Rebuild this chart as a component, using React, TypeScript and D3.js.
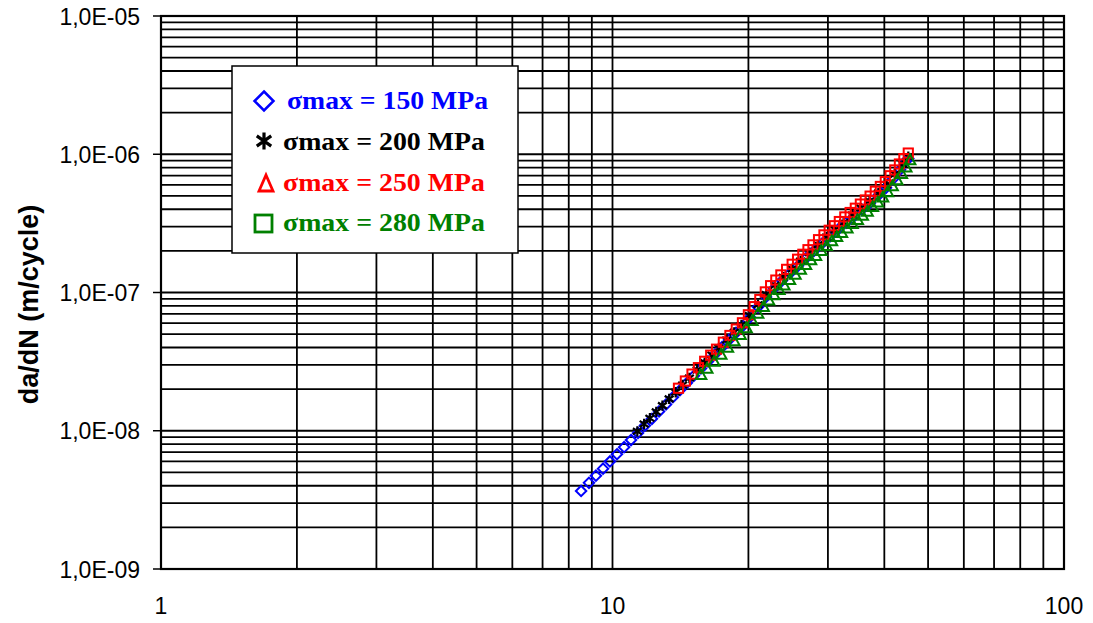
import React from "react";
import * as d3 from "d3";

// ---- Data ----
const k150 = [8.52, 8.87, 9.19, 9.53, 9.87, 10.23, 10.61, 10.99, 11.39, 11.8, 12.23, 12.68, 13.14, 13.61, 14.11, 14.62, 15.15, 15.7, 16.27, 16.87, 17.48, 18.11, 18.77, 19.45, 20.16, 21.0, 21.88, 22.79, 23.74, 24.73, 25.76, 26.83, 27.94, 29.11, 30.32, 31.58, 32.9, 34.27, 35.69, 37.18, 38.73, 40.34, 41.81, 43.34, 44.68, 45.2];
const dadn150 = [3.67e-9, 4.2e-9, 4.73e-9, 5.32e-9, 6.0e-9, 6.76e-9, 7.61e-9, 8.57e-9, 9.65e-9, 1.09e-8, 1.22e-8, 1.38e-8, 1.55e-8, 1.75e-8, 1.97e-8, 2.22e-8, 2.5e-8, 2.82e-8, 3.17e-8, 3.57e-8, 4.02e-8, 4.53e-8, 5.1e-8, 5.74e-8, 6.63e-8, 7.84e-8, 9.28e-8, 1.07e-7, 1.22e-7, 1.38e-7, 1.56e-7, 1.77e-7, 2.0e-7, 2.26e-7, 2.55e-7, 2.85e-7, 3.19e-7, 3.56e-7, 3.98e-7, 4.44e-7, 5.02e-7, 5.72e-7, 6.62e-7, 7.73e-7, 8.94e-7, 9.3e-7];

const k200 = [11.35, 11.75, 12.1, 12.5, 12.9, 13.35, 13.8, 14.3, 14.8, 15.4, 16.0, 16.6, 17.2, 17.9, 18.6, 19.3, 20.1, 21.0, 21.9, 22.9, 23.9, 25.0, 26.1, 27.3, 28.5, 29.8, 31.1, 32.5, 34.0, 35.5, 37.1, 38.8, 40.5, 42.2, 43.9, 45.2];
const dadn200 = [9.9e-9, 1.12e-8, 1.23e-8, 1.37e-8, 1.52e-8, 1.7e-8, 1.9e-8, 2.14e-8, 2.41e-8, 2.75e-8, 3.11e-8, 3.53e-8, 3.97e-8, 4.53e-8, 5.15e-8, 5.82e-8, 6.81e-8, 8.15e-8, 9.65e-8, 1.13e-7, 1.29e-7, 1.48e-7, 1.69e-7, 1.94e-7, 2.21e-7, 2.52e-7, 2.84e-7, 3.21e-7, 3.63e-7, 4.08e-7, 4.59e-7, 5.25e-7, 6.04e-7, 7.18e-7, 8.5e-7, 9.6e-7];

const k250 = [14.0, 14.5, 15.0, 15.5, 16.0, 16.5, 17.0, 17.6, 18.2, 18.8, 19.4, 20.0, 20.6, 21.2, 21.8, 22.4, 23.0, 23.6, 24.3, 25.0, 25.7, 26.4, 27.1, 27.8, 28.6, 29.4, 30.2, 31.0, 31.8, 32.7, 33.6, 34.5, 35.4, 36.3, 37.2, 38.2, 39.2, 40.2, 41.2, 42.2, 43.2, 44.2, 45.2];
const dadn250 = [2.03e-8, 2.29e-8, 2.57e-8, 2.86e-8, 3.18e-8, 3.52e-8, 3.89e-8, 4.37e-8, 4.89e-8, 5.44e-8, 6.04e-8, 6.9e-8, 7.9e-8, 8.9e-8, 1.01e-7, 1.12e-7, 1.23e-7, 1.34e-7, 1.47e-7, 1.6e-7, 1.74e-7, 1.89e-7, 2.04e-7, 2.21e-7, 2.41e-7, 2.61e-7, 2.82e-7, 3.04e-7, 3.26e-7, 3.52e-7, 3.79e-7, 4.07e-7, 4.36e-7, 4.67e-7, 4.98e-7, 5.4e-7, 5.85e-7, 6.34e-7, 6.99e-7, 7.7e-7, 8.5e-7, 9.3e-7, 1.02e-6];

const k280 = [15.7, 16.2, 16.8, 17.4, 18.0, 18.6, 19.2, 19.8, 20.4, 21.0, 21.6, 22.2, 22.8, 23.4, 24.0, 24.7, 25.4, 26.1, 26.8, 27.5, 28.2, 29.0, 29.8, 30.6, 31.4, 32.2, 33.1, 34.0, 34.9, 35.8, 36.7, 37.7, 38.7, 39.7, 40.7, 41.7, 42.7, 43.7, 44.7, 45.6];
const dadn280 = [2.54e-8, 2.82e-8, 3.17e-8, 3.56e-8, 4.0e-8, 4.46e-8, 4.95e-8, 5.55e-8, 6.26e-8, 7.06e-8, 7.9e-8, 8.8e-8, 9.6e-8, 1.05e-7, 1.13e-7, 1.24e-7, 1.35e-7, 1.47e-7, 1.59e-7, 1.72e-7, 1.85e-7, 2.01e-7, 2.18e-7, 2.36e-7, 2.53e-7, 2.71e-7, 2.92e-7, 3.14e-7, 3.36e-7, 3.61e-7, 3.86e-7, 4.17e-7, 4.51e-7, 4.9e-7, 5.35e-7, 5.9e-7, 6.53e-7, 7.25e-7, 8.06e-7, 9.1e-7];

const legendLabels = ["σmax = 150 MPa", "σmax = 200 MPa", "σmax = 250 MPa", "σmax = 280 MPa"];
const seriesColors = ["#0000FF", "#000000", "#FF0000", "#008000"];

const xTickValues = [1, 10, 100];
const xTickLabels = ["1", "10", "100"];
const yTickValues = [1e-9, 1e-8, 1e-7, 1e-6, 1e-5];
const yTickLabels = ["1,0E-09", "1,0E-08", "1,0E-07", "1,0E-06", "1,0E-05"];
const yTitle = "da/dN (m/cycle)";

// ---- Layout ----
const W = 1093;
const H = 623;
const PL = 161, PR = 1064, PT = 16, PB = 569;

const x = d3.scaleLog().domain([1, 100]).range([PL, PR]);
const y = d3.scaleLog().domain([1e-9, 1e-5]).range([PB, PT]);

function gridValues(lo: number, hi: number): number[] {
  const out: number[] = [];
  for (let e = Math.round(Math.log10(lo)); e < Math.round(Math.log10(hi)); e++) {
    for (let m = 1; m <= 9; m++) out.push(m * Math.pow(10, e));
  }
  out.push(hi);
  return out;
}

const Diamond = ({ cx, cy, r, color, sw }: any) => (
  <path d={`M${cx},${cy - r}L${cx + r},${cy}L${cx},${cy + r}L${cx - r},${cy}Z`} fill="none" stroke={color} strokeWidth={sw} />
);
const Star = ({ cx, cy, r, color, sw }: any) => (
  <path
    d={`M${cx},${cy - r}L${cx},${cy + r}M${cx - r * 0.85},${cy - r * 0.6}L${cx + r * 0.85},${cy + r * 0.6}M${cx - r * 0.85},${cy + r * 0.6}L${cx + r * 0.85},${cy - r * 0.6}`}
    fill="none" stroke={color} strokeWidth={sw} />
);
const Square = ({ cx, cy, r, color, sw }: any) => (
  <rect x={cx - r} y={cy - r} width={2 * r} height={2 * r} fill="none" stroke={color} strokeWidth={sw} />
);
const Triangle = ({ cx, cy, r, color, sw }: any) => (
  <path d={`M${cx},${cy - r}L${cx + r},${cy + r * 0.8}L${cx - r},${cy + r * 0.8}Z`} fill="none" stroke={color} strokeWidth={sw} />
);

export default function App() {
  const xg = gridValues(1, 100);
  const yg = gridValues(1e-9, 1e-5);
  const s150 = k150.map((k, i) => [k, dadn150[i]]);
  const s200 = k200.map((k, i) => [k, dadn200[i]]);
  const s250 = k250.map((k, i) => [k, dadn250[i]]);
  const s280 = k280.map((k, i) => [k, dadn280[i]]);

  const legendY = [101, 142, 183, 223];

  return (
    <svg width={W} height={H} style={{ position: "absolute", left: 0, top: 0, background: "#fff" }}>
      <rect x={0} y={0} width={W} height={H} fill="#fff" />
      {/* grid */}
      <g stroke="#000" strokeWidth={1.8}>
        {yg.map((v, i) => (
          <line key={"yg" + i} x1={PL} x2={PR} y1={y(v)} y2={y(v)} />
        ))}
        {xg.map((v, i) => (
          <line key={"xg" + i} x1={x(v)} x2={x(v)} y1={PT} y2={PB} />
        ))}
      </g>
      <rect x={PL} y={PT} width={PR - PL} height={PB - PT} fill="none" stroke="#000" strokeWidth={2.2} />
      {/* y ticks */}
      {yTickValues.map((v, i) => (
        <g key={"yt" + i}>
          <line x1={PL - 8} x2={PL} y1={y(v)} y2={y(v)} stroke="#000" strokeWidth={1.5} />
          <text x={140} y={y(v) + 8.5} textAnchor="end" fontFamily="Liberation Sans, Arial, sans-serif" fontSize={23} fill="#000">
            {yTickLabels[i]}
          </text>
        </g>
      ))}
      {/* x tick labels */}
      {xTickValues.map((v, i) => (
        <text key={"xt" + i} x={x(v)} y={614} textAnchor="middle" fontFamily="Liberation Sans, Arial, sans-serif" fontSize={23} fill="#000">
          {xTickLabels[i]}
        </text>
      ))}
      {/* y title */}
      <text transform={`translate(38,${(PT + PB) / 2 + 12}) rotate(-90)`} textAnchor="middle" fontFamily="Liberation Sans, Arial, sans-serif" fontSize={27} fontWeight="bold" fill="#000">
        {yTitle}
      </text>
      {/* data */}
      <g>
        {s150.map((d, i) => (
          <Diamond key={"b" + i} cx={x(d[0])} cy={y(d[1])} r={5.2} color={seriesColors[0]} sw={2} />
        ))}
        {s200.map((d, i) => (
          <Star key={"k" + i} cx={x(d[0])} cy={y(d[1])} r={5.2} color={seriesColors[1]} sw={2.2} />
        ))}
        {s250.map((d, i) => (
          <Square key={"r" + i} cx={x(d[0])} cy={y(d[1])} r={4.6} color={seriesColors[2]} sw={2} />
        ))}
        {s280.map((d, i) => (
          <Triangle key={"g" + i} cx={x(d[0])} cy={y(d[1])} r={5.4} color={seriesColors[3]} sw={2} />
        ))}
      </g>
      {/* legend */}
      <rect x={232} y={66} width={286} height={187} fill="#fff" stroke="#000" strokeWidth={1.5} />
      <Diamond cx={264} cy={legendY[0]} r={9.5} color={seriesColors[0]} sw={2.5} />
      <Star cx={264} cy={legendY[1] - 1} r={8.5} color={seriesColors[1]} sw={3.2} />
      <path d={`M266,${legendY[2] - 8}L273,${legendY[2] + 8}L259,${legendY[2] + 8}Z`} fill="none" stroke={seriesColors[2]} strokeWidth={2.8} />
      <rect x={255} y={legendY[3] - 8} width={17} height={17} fill="none" stroke={seriesColors[3]} strokeWidth={2.8} />
      {legendLabels.map((t, i) => (
        <text key={"lg" + i} x={i === 0 ? 287 : 283} y={legendY[i] + 8} textLength={i === 0 ? 201 : 202} lengthAdjust="spacingAndGlyphs"
          fontFamily="Liberation Serif, Times New Roman, serif" fontSize={25} fontWeight="bold" fill={seriesColors[i]}>
          {t}
        </text>
      ))}
    </svg>
  );
}
